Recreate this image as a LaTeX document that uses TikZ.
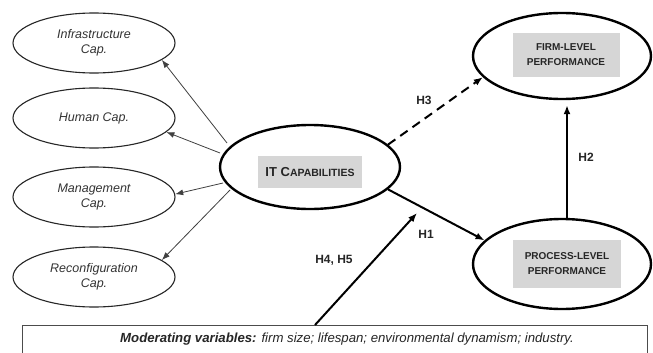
\documentclass[tikz,border=0pt]{standalone}
\usepackage{fontspec}
\setmainfont{Liberation Sans}
\usetikzlibrary{shapes.geometric,arrows.meta,calc}
\begin{document}
\begin{tikzpicture}[x=1pt,y=-1pt,
  capell/.style={draw=black!85, line width=1.1pt, ellipse, minimum width=162pt, minimum height=60pt,
    align=center, font=\fontsize{12.5}{15}\selectfont\itshape, text=black!80},
  bigell/.style={draw=black, line width=2.4pt, ellipse, inner sep=0pt},
  graybox/.style={fill=black!16, inner sep=0pt, align=center, text=black!85,
    font=\fontsize{10}{15}\selectfont\bfseries},
  thinarr/.style={draw=black!75, line width=0.8pt, -{Latex[length=8pt,width=6pt]}},
  thickarr/.style={draw=black, line width=2pt, -{Latex[length=9pt,width=7pt]}},
  hlab/.style={font=\fontsize{12}{14}\selectfont\bfseries, text=black!85}]
\useasboundingbox (0,0) rectangle (653,353);
\clip (0,0) rectangle (653,353);
\fill[white] (0,0) rectangle (653,353);

% dimension ellipses on the left
\node[capell] (infra) at (94,43) {Infrastructure\\Cap.};
\node[capell] (human) at (94,118) {Human Cap.};
\node[capell] (mgmt) at (94,197) {Management\\Cap.};
\node[capell] (reconf) at (94,277) {Reconfiguration\\Cap.};

% central construct
\node[bigell, minimum width=180pt, minimum height=84pt] (itc) at (310,167) {};
\node[graybox, minimum width=104pt, minimum height=32pt, font=\fontsize{13}{15}\selectfont\bfseries] (itlab) at (310,172) {IT C{\fontsize{10.5}{12}\selectfont APABILITIES}};

% outcome constructs
\node[bigell, minimum width=178pt, minimum height=86pt] (firm) at (562,56) {};
\node[graybox, minimum width=107pt, minimum height=44pt] (firmlab) at (566,55) {FIRM-LEVEL\\PERFORMANCE};
\node[bigell, minimum width=178pt, minimum height=90pt] (proc) at (562,264) {};
\node[graybox, minimum width=108pt, minimum height=48pt] (proclab) at (567,264) {PROCESS-LEVEL\\PERFORMANCE};

% moderators
\node[draw=black!70, line width=0.8pt, minimum width=625pt, minimum height=40pt, anchor=north west, inner sep=0pt] (mod) at (22,325) {};
\node[font=\fontsize{13.2}{15}\selectfont\itshape, text=black!85] (modtxt) at (347,339)
  {\textbf{Moderating variables:} firm size; lifespan; environmental dynamism; industry.};

% reflective links, starting just off the left rim of the central ellipse
\coordinate (s1) at ($(itc.center)+(-83,-24)$);
\coordinate (s2) at ($(itc.center)+(-90,-14)$);
\coordinate (s3) at ($(itc.center)+(-87,16)$);
\coordinate (s4) at ($(itc.center)+(-80,23)$);
\draw[thinarr] (s1) -- (infra.-14);
\draw[thinarr] (s2) -- (human.-11);
\draw[thinarr] (s3) -- (mgmt.2);
\draw[thinarr] (s4) -- (reconf.14);

% hypotheses
\draw[thickarr, dashed, dash pattern=on 9pt off 6pt] (itc.16) -- (firm.195);
\draw[thickarr] (itc.-16) -- (proc.163);
\coordinate (h45end) at (417,213);
\coordinate (modtop) at (mod.north west -| 315,0);
\draw[thickarr] (modtop) -- (h45end);
\coordinate (h2s) at ($(proc.north)+(5,0)$);
\coordinate (h2e) at ($(firm.south)+(5,5)$);
\draw[thickarr] (h2s) -- (h2e);

\node[hlab] (h3) at (424,100) {H3};
\node[hlab] (h2) at (586,157) {H2};
\node[hlab] (h1) at (426,234) {H1};
\node[hlab] (h45) at (334,260) {H4, H5};
\end{tikzpicture}
\end{document}
